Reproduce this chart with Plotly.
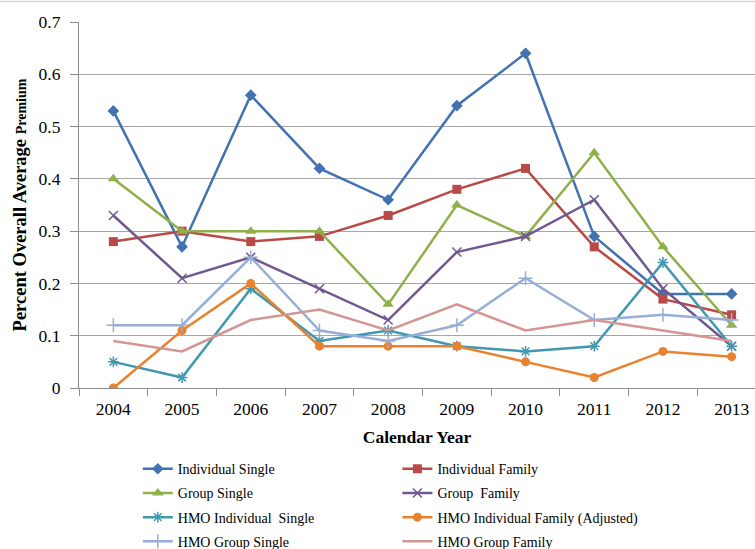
import plotly.graph_objects as go

years = [2004, 2005, 2006, 2007, 2008, 2009, 2010, 2011, 2012, 2013]
individual_single = [0.53, 0.27, 0.56, 0.42, 0.36, 0.54, 0.64, 0.29, 0.18, 0.18]
individual_family = [0.28, 0.30, 0.28, 0.29, 0.33, 0.38, 0.42, 0.27, 0.17, 0.14]
group_single = [0.40, 0.30, 0.30, 0.30, 0.16, 0.35, 0.29, 0.45, 0.27, 0.12]
group_family = [0.33, 0.21, 0.25, 0.19, 0.13, 0.26, 0.29, 0.36, 0.19, 0.08]
hmo_individual_single = [0.05, 0.02, 0.19, 0.09, 0.11, 0.08, 0.07, 0.08, 0.24, 0.08]
hmo_individual_family_adj = [0.00, 0.11, 0.20, 0.08, 0.08, 0.08, 0.05, 0.02, 0.07, 0.06]
hmo_group_single = [0.12, 0.12, 0.25, 0.11, 0.09, 0.12, 0.21, 0.13, 0.14, 0.13]
hmo_group_family = [0.09, 0.07, 0.13, 0.15, 0.11, 0.16, 0.11, 0.13, 0.11, 0.09]
y_ticks = [0, 0.1, 0.2, 0.3, 0.4, 0.5, 0.6, 0.7]
y_tick_labels = ["0", "0.1", "0.2", "0.3", "0.4", "0.5", "0.6", "0.7"]

FONT = "Liberation Serif"

series = [
    ("Individual Single", individual_single, "#4372B0", dict(symbol="diamond", size=9), "legend"),
    ("Individual Family", individual_family, "#B94A48", dict(symbol="square", size=9), "legend2"),
    ("Group Single", group_single, "#8FB04A", dict(symbol="triangle-up", size=10), "legend"),
    ("Group  Family", group_family, "#71588F", dict(symbol="x-thin-open", size=9, line=dict(width=1.5, color="#71588F")), "legend2"),
    ("HMO Individual  Single", hmo_individual_single, "#4198AF", dict(symbol="asterisk-open", size=9, line=dict(width=1.5, color="#4198AF")), "legend"),
    ("HMO Individual Family (Adjusted)", hmo_individual_family_adj, "#E8822E", dict(symbol="circle", size=9), "legend2"),
    ("HMO Group Single", hmo_group_single, "#97AED6", dict(symbol="cross-thin-open", size=10, line=dict(width=1.5, color="#97AED6")), "legend"),
    ("HMO Group Family", hmo_group_family, "#D49694", None, "legend2"),
]

fig = go.Figure()
for i, (name, vals, color, marker, leg) in enumerate(series):
    kw = dict(x=years, y=vals, name=name, line=dict(color=color, width=2.5), legend=leg,
              legendgroup=f"g{i}")
    if marker is None:
        kw["mode"] = "lines"
    else:
        m = dict(marker)
        m["color"] = color
        kw["mode"] = "lines+markers"
        kw["marker"] = m
    fig.add_trace(go.Scatter(**kw))

fig.update_layout(
    width=755, height=549,
    margin=dict(l=79, r=0, t=22, b=161, autoexpand=False),
    paper_bgcolor="white", plot_bgcolor="white",
    font=dict(family=FONT, size=15, color="black"),
    legend=dict(x=0.087, y=-0.178, xanchor="left", yanchor="top", font=dict(size=14, family=FONT),
                tracegroupgap=3, itemwidth=30, bgcolor="rgba(0,0,0,0)"),
    legend2=dict(x=0.471, y=-0.178, xanchor="left", yanchor="top", font=dict(size=14, family=FONT),
                 tracegroupgap=3, itemwidth=30, bgcolor="rgba(0,0,0,0)"),
    shapes=[dict(type="line", xref="paper", yref="paper", x0=-0.2, x1=1.1, y0=1 + 20.5 / 366, y1=1 + 20.5 / 366,
                 line=dict(color="#D9D9D9", width=1.5))],
)
fig.update_xaxes(
    range=[2003.5, 2013.34], tickvals=years, ticktext=[str(y) for y in years],
    ticks="", showgrid=False, showline=True, linecolor="#8C8C8C", linewidth=1.2,
    zeroline=False, tickfont=dict(size=17.5, family=FONT), automargin=False,
    ticklabeloverflow="allow", ticklabelstandoff=5,
    minor=dict(tickvals=[y - 0.5 for y in years] + [2013.5], ticks="outside", ticklen=7, tickcolor="#8C8C8C", showgrid=False),
    title=dict(text="<b>Calendar Year</b>", font=dict(size=17.5, family=FONT), standoff=12),
)
fig.update_yaxes(
    range=[0, 0.7], tickvals=y_ticks, ticktext=y_tick_labels,
    ticks="outside", ticklen=8, tickcolor="#8C8C8C", ticklabelstandoff=6,
    showgrid=True, gridcolor="#A6A6A6", gridwidth=1.2,
    showline=True, linecolor="#8C8C8C", linewidth=1.2, zeroline=False,
    tickfont=dict(size=17.5, family=FONT), automargin=False,
    title=dict(text="<b>Percent Overall Average <span style='font-size:14px'>Premium</span></b>", font=dict(size=18.5, family=FONT), standoff=7),
)
fig.write_html("out.html", config={"displayModeBar": False},
               post_script="document.body.style.margin='0';document.body.style.overflow='hidden';")
